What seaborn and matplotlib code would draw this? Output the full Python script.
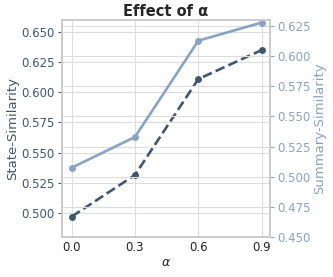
import numpy as np
import pandas as pd
import matplotlib
matplotlib.use("Agg")
import matplotlib.pyplot as plt
import seaborn as sns

# ===================== data =====================
alphas = [0.0, 0.3, 0.6, 0.9]
state_sim = [0.497, 0.5315, 0.611, 0.635]
summary_sim = [0.5075, 0.533, 0.6128, 0.6278]

DARK = "#3f5771"
LIGHT = "#87a3c8"

sns.set_theme(style="whitegrid")
plt.rcParams["font.family"] = ["DejaVu Sans"]

df = pd.DataFrame({"alpha": alphas, "state": state_sim, "summary": summary_sim})

fig = plt.figure(figsize=(3.33, 2.77), dpi=100)
ax = fig.add_axes([0.186, 0.144, 0.625, 0.784])
ax2 = ax.twinx()

sns.lineplot(data=df, x="alpha", y="state", ax=ax, color=DARK, marker="o",
             linestyle="--", linewidth=1.9, markersize=5, markeredgewidth=0)
sns.lineplot(data=df, x="alpha", y="summary", ax=ax2, color=LIGHT, marker="o",
             linestyle="-", linewidth=1.9, markersize=5, markeredgewidth=0)

ax.set_ylim(0.480, 0.660)
ax2.set_ylim(0.450, 0.630)
ax.set_yticks([0.500, 0.525, 0.550, 0.575, 0.600, 0.625, 0.650])
ax2.set_yticks([0.450, 0.475, 0.500, 0.525, 0.550, 0.575, 0.600, 0.625])
ax.set_xticks(alphas)
ax.set_xlim(-0.046, 0.94)

ax.set_xlabel(r"$\alpha$", fontsize=9, labelpad=1)
ax.set_ylabel("State-Similarity", color=DARK, fontsize=9.5, labelpad=2)
ax2.set_ylabel("Summary-Similarity", color=LIGHT, fontsize=9.5, labelpad=2)
ax.set_title("Effect of α", fontweight="bold", fontsize=10.5, pad=3)

ax.tick_params(axis="y", colors=DARK, labelsize=8.5, length=3, width=0.8, pad=2)
ax2.tick_params(axis="y", colors=LIGHT, labelsize=8.5, length=3, width=0.8, pad=2)
ax.tick_params(axis="x", colors="#222222", labelsize=8.5, length=0, pad=3)

for a in (ax, ax2):
    a.grid(True, color="#dddddd", linewidth=0.8)
    for s in a.spines.values():
        s.set_color("#cccccc")
ax.xaxis.grid(True)

fig.savefig("out.png", dpi=100)
